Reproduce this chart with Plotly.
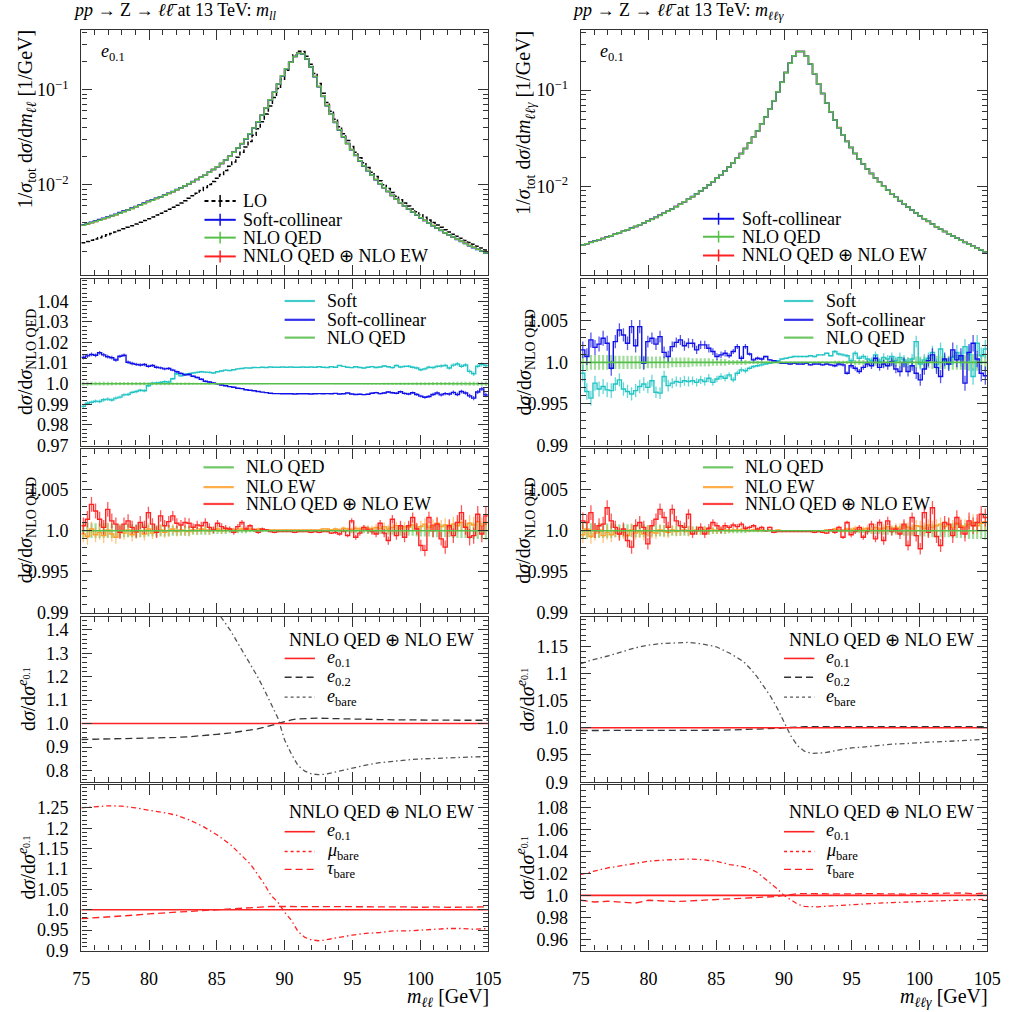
import numpy as np
import plotly.graph_objects as go

# ---------------- data ----------------
bin_edges = np.round(np.linspace(75.0, 105.0, 101), 2)
bin_centers = np.round((bin_edges[:-1] + bin_edges[1:]) / 2, 3)

lo_mll = [
    0.002454, 0.002530, 0.002611, 0.002694, 0.002783, 0.002878, 0.002978, 0.003083, 0.003195, 0.003316,
    0.003443, 0.003576, 0.003721, 0.003876, 0.004042, 0.004217, 0.004408, 0.004598, 0.004805, 0.005025,
    0.005266, 0.005525, 0.005810, 0.006116, 0.006455, 0.006822, 0.007231, 0.007683, 0.008182, 0.008738,
    0.009358, 0.01006, 0.01084, 0.01173, 0.01286, 0.01416, 0.01567, 0.01743, 0.01952, 0.02200,
    0.02498, 0.02861, 0.03321, 0.03895, 0.04621, 0.05553, 0.06764, 0.08287, 0.1029, 0.1290,
    0.1603, 0.1962, 0.2325, 0.2544, 0.2522, 0.2246, 0.1861, 0.1482, 0.1166, 0.09208,
    0.07355, 0.05958, 0.04895, 0.04078, 0.03440, 0.02934, 0.02530, 0.02201, 0.01930, 0.01706,
    0.01518, 0.01359, 0.01223, 0.01106, 0.01005, 0.009171, 0.008318, 0.007608, 0.006982, 0.006459,
    0.005993, 0.005575, 0.005199, 0.004860, 0.004552, 0.004273, 0.004019, 0.003786, 0.003573, 0.003377,
    0.003198, 0.003031, 0.002878, 0.002735, 0.002604, 0.002481, 0.002367, 0.002261, 0.002161, 0.002068]

nlo_mll = [
    0.003755, 0.003868, 0.003990, 0.004111, 0.004244, 0.004386, 0.004533, 0.004689, 0.004856, 0.005037,
    0.005226, 0.005421, 0.005637, 0.005868, 0.006112, 0.006372, 0.006656, 0.006902, 0.007169, 0.007452,
    0.007762, 0.008100, 0.008465, 0.008856, 0.009289, 0.009755, 0.01024, 0.01078, 0.01136, 0.01201,
    0.01274, 0.01356, 0.01446, 0.01548, 0.01679, 0.01828, 0.02001, 0.02200, 0.02436, 0.02713,
    0.03045, 0.03445, 0.03952, 0.04604, 0.05430, 0.06480, 0.07846, 0.09447, 0.1152, 0.1406,
    0.1667, 0.1952, 0.2244, 0.2417, 0.2383, 0.2111, 0.1740, 0.1378, 0.1084, 0.08563,
    0.06840, 0.05541, 0.04552, 0.03793, 0.03199, 0.02729, 0.02353, 0.02047, 0.01795, 0.01587,
    0.01412, 0.01264, 0.01137, 0.01029, 0.009347, 0.008529, 0.007736, 0.007075, 0.006493, 0.006007,
    0.005573, 0.005185, 0.004835, 0.004520, 0.004233, 0.003974, 0.003738, 0.003521, 0.003323, 0.003141,
    0.002974, 0.002819, 0.002677, 0.002544, 0.002422, 0.002307, 0.002201, 0.002103, 0.002010, 0.001923]

nlo_mllg = [
    0.002470, 0.002542, 0.002622, 0.002702, 0.002789, 0.002878, 0.002975, 0.003077, 0.003185, 0.003300,
    0.003422, 0.003552, 0.003691, 0.003836, 0.003994, 0.004164, 0.004346, 0.004549, 0.004766, 0.005003,
    0.005258, 0.005533, 0.005836, 0.006167, 0.006530, 0.006929, 0.007359, 0.007836, 0.008364, 0.008953,
    0.009610, 0.01035, 0.01119, 0.01214, 0.01322, 0.01446, 0.01591, 0.01759, 0.01956, 0.02190,
    0.02470, 0.02810, 0.03232, 0.03756, 0.04415, 0.05256, 0.06341, 0.07764, 0.09631, 0.1207,
    0.1520, 0.1896, 0.2269, 0.2519, 0.2510, 0.2246, 0.1861, 0.1482, 0.1166, 0.09208,
    0.07355, 0.05958, 0.04895, 0.04078, 0.03440, 0.02934, 0.02530, 0.02201, 0.01930, 0.01706,
    0.01518, 0.01359, 0.01223, 0.01106, 0.01005, 0.009171, 0.008402, 0.007724, 0.007124, 0.006591,
    0.006115, 0.005689, 0.005305, 0.004934, 0.004622, 0.004338, 0.004080, 0.003824, 0.003610, 0.003412,
    0.003230, 0.003062, 0.002908, 0.002763, 0.002630, 0.002507, 0.002391, 0.002284, 0.002183, 0.002089]

soft_ratio_mll = [
    0.9890, 0.9905, 0.9910, 0.9915, 0.9914, 0.9922, 0.9925, 0.9921, 0.9930, 0.9935,
    0.9946, 0.9948, 0.9958, 0.9962, 0.9968, 0.9966, 0.9990, 1.0003, 1.0004, 1.0006,
    1.0010, 1.0008, 1.0024, 1.0048, 1.0038, 1.0045, 1.0048, 1.0052, 1.0055, 1.0058,
    1.0056, 1.0055, 1.0052, 1.0058, 1.0062, 1.0066, 1.0064, 1.0068, 1.0072, 1.0074,
    1.0077, 1.0076, 1.0079, 1.0078, 1.0080, 1.0079, 1.0081, 1.0080, 1.0080, 1.0081,
    1.0080, 1.0081, 1.0080, 1.0080, 1.0081, 1.0080, 1.0081, 1.0080, 1.0082, 1.0080,
    1.0079, 1.0082, 1.0080, 1.0088, 1.0084, 1.0080, 1.0078, 1.0082, 1.0079, 1.0076,
    1.0080, 1.0083, 1.0079, 1.0081, 1.0086, 1.0082, 1.0078, 1.0088, 1.0081, 1.0084,
    1.0085, 1.0080, 1.0076, 1.0068, 1.0072, 1.0080, 1.0078, 1.0084, 1.0086, 1.0089,
    1.0076, 1.0090, 1.0096, 1.0085, 1.0091, 1.0060, 1.0048, 1.0085, 1.0094, 1.0088]

sc_ratio_mll = [
    1.0128, 1.0135, 1.0142, 1.0138, 1.0150, 1.0140, 1.0131, 1.0126, 1.0115, 1.0133,
    1.0138, 1.0104, 1.0098, 1.0094, 1.0091, 1.0093, 1.0085, 1.0088, 1.0080, 1.0077,
    1.0072, 1.0074, 1.0066, 1.0058, 1.0050, 1.0043, 1.0045, 1.0036, 1.0030, 1.0022,
    1.0012, 1.0008, 1.0004, 0.9999, 0.9994, 0.9990, 0.9986, 0.9983, 0.9978, 0.9976,
    0.9971, 0.9968, 0.9966, 0.9962, 0.9959, 0.9957, 0.9954, 0.9952, 0.9952, 0.9951,
    0.9951, 0.9951, 0.9950, 0.9951, 0.9951, 0.9951, 0.9950, 0.9951, 0.9952, 0.9951,
    0.9952, 0.9951, 0.9953, 0.9950, 0.9951, 0.9955, 0.9950, 0.9948, 0.9949, 0.9947,
    0.9949, 0.9954, 0.9957, 0.9952, 0.9955, 0.9960, 0.9956, 0.9954, 0.9961, 0.9953,
    0.9950, 0.9956, 0.9948, 0.9940, 0.9934, 0.9938, 0.9948, 0.9955, 0.9946, 0.9952,
    0.9950, 0.9958, 0.9948, 0.9962, 0.9955, 0.9941, 0.9930, 0.9960, 0.9975, 0.9945]

soft_ratio_mllg = [
    0.9987, 0.9965, 0.9957, 0.9975, 0.9968, 0.9971, 0.9967, 0.9966, 0.9974, 0.9979,
    0.9968, 0.9965, 0.9962, 0.9966, 0.9971, 0.9974, 0.9970, 0.9978, 0.9964, 0.9963,
    0.9983, 0.9972, 0.9975, 0.9977, 0.9976, 0.9978, 0.9977, 0.9978, 0.9976, 0.9979,
    0.9977, 0.9981, 0.9976, 0.9980, 0.9983, 0.9981, 0.9985, 0.9979, 0.9987, 0.9991,
    0.9990, 0.9993, 0.9995, 0.9996, 0.9997, 0.9998, 0.9999, 1.0000, 1.0002, 1.0004,
    1.0005, 1.0006, 1.0007, 1.0007, 1.0007, 1.0007, 1.0008, 1.0007, 1.0009, 1.0009,
    1.0011, 1.0008, 1.0013, 1.0010, 1.0009, 1.0008, 1.0002, 1.0011, 1.0005, 1.0007,
    1.0004, 1.0002, 1.0009, 1.0001, 1.0006, 1.0004, 1.0007, 1.0002, 1.0006, 1.0003,
    1.0000, 1.0004, 1.0025, 0.9998, 1.0003, 1.0005, 1.0012, 0.9997, 1.0016, 1.0002,
    0.9998, 1.0006, 1.0012, 1.0004, 1.0019, 1.0010, 0.9983, 1.0023, 1.0008, 1.0016]

sc_ratio_mllg = [
    1.0015, 1.0007, 1.0027, 1.0018, 1.0022, 1.0029, 1.0023, 0.9993, 1.0025, 1.0039,
    1.0033, 1.0023, 1.0043, 1.0020, 1.0043, 0.9999, 1.0025, 1.0029, 1.0022, 1.0031,
    1.0012, 1.0007, 1.0019, 1.0024, 1.0027, 1.0020, 1.0023, 1.0023, 1.0015, 1.0021,
    1.0021, 1.0017, 1.0013, 1.0007, 1.0009, 1.0011, 1.0008, 1.0013, 1.0019, 1.0005,
    1.0019, 1.0010, 1.0003, 1.0005, 1.0004, 1.0007, 1.0003, 1.0002, 1.0000, 0.9999,
    0.9999, 0.9998, 0.9999, 0.9998, 0.9998, 0.9999, 0.9997, 0.9998, 0.9998, 0.9997,
    0.9998, 0.9997, 0.9996, 0.9998, 0.9997, 0.9987, 0.9996, 0.9993, 0.9989, 0.9994,
    0.9998, 0.9996, 1.0005, 0.9994, 0.9998, 0.9996, 1.0001, 0.9992, 0.9989, 1.0000,
    0.9989, 0.9996, 0.9987, 0.9979, 0.9992, 1.0002, 1.0009, 0.9994, 0.9983, 1.0004,
    0.9998, 1.0015, 1.0003, 1.0008, 0.9975, 1.0012, 1.0023, 1.0004, 0.9987, 0.9984]

nnlo_ratio_mll = [
    1.0006, 1.0014, 1.0032, 1.0024, 1.0014, 1.0004, 1.0026, 1.0012, 1.0008, 0.9998,
    1.0008, 1.0012, 1.0004, 0.9999, 1.0010, 1.0004, 1.0022, 1.0008, 0.9998, 1.0018,
    1.0006, 1.0011, 1.0018, 1.0009, 1.0007, 1.0010, 1.0009, 1.0004, 1.0007, 1.0006,
    1.0010, 1.0004, 1.0001, 1.0009, 1.0005, 1.0003, 1.0002, 0.9998, 1.0005, 1.0010,
    1.0002, 1.0006, 1.0001, 0.9998, 1.0002, 1.0001, 0.9999, 0.9998, 0.9999, 0.9999,
    0.9999, 0.9999, 0.9998, 0.9999, 0.9999, 0.9999, 0.9998, 0.9999, 0.9998, 0.9999,
    0.9999, 0.9997, 0.9998, 0.9996, 1.0000, 0.9994, 1.0012, 0.9992, 0.9997, 1.0004,
    1.0001, 0.9999, 0.9996, 1.0009, 0.9997, 0.9988, 1.0014, 0.9994, 1.0006, 0.9992,
    1.0006, 1.0016, 1.0002, 0.9982, 0.9976, 1.0016, 1.0000, 1.0008, 0.9990, 0.9980,
    1.0006, 0.9994, 1.0010, 1.0022, 1.0004, 0.9992, 0.9994, 1.0020, 0.9996, 1.0018]

ew_ratio_mll = [
    0.9996, 0.9993, 1.0002, 0.9995, 0.9998, 0.9994, 1.0001, 0.9996, 0.9992, 0.9999,
    0.9997, 1.0001, 0.9995, 0.9998, 1.0000, 0.9996, 1.0002, 0.9997, 0.9999, 1.0001,
    0.9998, 1.0000, 1.0002, 0.9999, 1.0001, 1.0000, 0.9999, 1.0001, 1.0000, 1.0002,
    1.0001, 1.0000, 1.0001, 1.0002, 1.0000, 1.0001, 1.0002, 1.0001, 1.0001, 1.0002,
    1.0001, 1.0002, 1.0001, 1.0002, 1.0001, 1.0001, 1.0001, 1.0001, 1.0001, 1.0001,
    1.0001, 1.0001, 1.0001, 1.0001, 1.0001, 1.0001, 1.0001, 1.0001, 1.0001, 1.0002,
    1.0002, 1.0001, 1.0002, 1.0001, 1.0003, 1.0002, 1.0001, 1.0003, 1.0002, 1.0004,
    1.0003, 1.0002, 1.0004, 1.0003, 1.0005, 1.0002, 1.0004, 1.0006, 1.0003, 1.0005,
    1.0004, 1.0007, 1.0003, 1.0005, 1.0008, 1.0004, 1.0006, 1.0009, 1.0005, 1.0007,
    1.0004, 1.0008, 1.0006, 1.0010, 1.0005, 1.0009, 1.0007, 1.0011, 1.0006, 1.0010]

nnlo_ratio_mllg = [
    1.0012, 1.0010, 1.0022, 1.0000, 1.0006, 1.0008, 1.0028, 1.0012, 1.0004, 0.9996,
    1.0002, 0.9988, 0.9980, 1.0006, 1.0010, 1.0004, 0.9984, 1.0006, 1.0014, 1.0026,
    1.0016, 1.0004, 1.0026, 1.0012, 1.0006, 1.0004, 1.0020, 0.9996, 1.0000, 1.0004,
    0.9996, 1.0003, 1.0010, 1.0006, 1.0001, 1.0006, 1.0004, 1.0007, 1.0005, 1.0008,
    1.0003, 1.0004, 1.0006, 1.0002, 1.0004, 1.0000, 1.0004, 0.9998, 0.9999, 0.9999,
    0.9999, 0.9999, 0.9999, 0.9999, 0.9999, 0.9999, 0.9999, 0.9998, 0.9999, 0.9998,
    0.9997, 1.0001, 0.9998, 1.0004, 0.9992, 1.0010, 0.9995, 0.9999, 1.0004, 0.9992,
    0.9999, 1.0008, 0.9990, 1.0010, 0.9988, 1.0012, 0.9999, 1.0002, 0.9996, 1.0008,
    0.9982, 1.0016, 0.9994, 0.9978, 1.0022, 0.9998, 1.0028, 0.9993, 0.9982, 1.0010,
    1.0008, 0.9994, 1.0016, 1.0004, 0.9996, 1.0012, 1.0006, 1.0010, 1.0020, 1.0016]

ew_ratio_mllg = [
    0.9995, 1.0002, 0.9993, 0.9997, 1.0001, 0.9994, 0.9998, 0.9995, 1.0000, 0.9996,
    0.9998, 0.9994, 1.0001, 0.9997, 0.9999, 0.9996, 1.0000, 0.9998, 0.9997, 1.0001,
    0.9999, 0.9998, 1.0001, 0.9999, 1.0000, 1.0001, 0.9999, 1.0000, 1.0001, 1.0000,
    1.0001, 1.0000, 1.0001, 1.0000, 1.0001, 1.0001, 1.0000, 1.0001, 1.0001, 1.0001,
    1.0001, 1.0000, 1.0001, 1.0000, 1.0001, 1.0000, 1.0001, 1.0000, 1.0001, 1.0000,
    1.0000, 1.0000, 1.0000, 1.0000, 1.0000, 1.0000, 1.0000, 1.0000, 1.0000, 1.0000,
    1.0001, 1.0000, 1.0002, 1.0001, 1.0000, 1.0002, 1.0001, 1.0003, 1.0001, 1.0002,
    1.0003, 1.0001, 1.0004, 1.0002, 1.0003, 1.0005, 1.0002, 1.0004, 1.0003, 1.0006,
    1.0004, 1.0002, 1.0006, 1.0005, 1.0003, 1.0007, 1.0004, 1.0006, 1.0008, 1.0005,
    1.0007, 1.0004, 1.0009, 1.0006, 1.0005, 1.0008, 1.0010, 1.0006, 1.0009, 1.0011]

nlo_rel_err = [
    0.0010, 0.0010, 0.0009, 0.0009, 0.0009, 0.0009, 0.0009, 0.0009, 0.0008, 0.0008,
    0.0008, 0.0008, 0.0008, 0.0008, 0.0008, 0.0008, 0.0007, 0.0007, 0.0007, 0.0007,
    0.0007, 0.0007, 0.0006, 0.0006, 0.0006, 0.0006, 0.0006, 0.0005, 0.0005, 0.0005,
    0.0005, 0.0005, 0.0004, 0.0004, 0.0004, 0.0004, 0.0003, 0.0003, 0.0003, 0.0003,
    0.0003, 0.0002, 0.0002, 0.0002, 0.0002, 0.0001, 0.0001, 0.0001, 0.0001, 0.0001,
    0.0001, 0.0001, 0.0001, 0.0001, 0.0001, 0.0001, 0.0001, 0.0001, 0.0001, 0.0001,
    0.0001, 0.0001, 0.0002, 0.0002, 0.0002, 0.0002, 0.0003, 0.0003, 0.0003, 0.0003,
    0.0004, 0.0004, 0.0004, 0.0004, 0.0005, 0.0005, 0.0005, 0.0005, 0.0006, 0.0006,
    0.0006, 0.0006, 0.0007, 0.0007, 0.0007, 0.0007, 0.0008, 0.0008, 0.0008, 0.0008,
    0.0008, 0.0009, 0.0009, 0.0009, 0.0009, 0.0010, 0.0010, 0.0010, 0.0010, 0.0011]

# smooth ratios (read at selected masses)
smooth_x = [75, 76, 77, 78, 79, 80, 81, 82, 83, 84, 85, 86, 87,
            87.5, 88, 88.5, 89, 89.5, 90, 90.5, 91, 91.5, 92, 92.5, 93,
            94, 95, 96, 97, 98, 99, 100, 101, 102, 103, 104, 105]

e02_mll = [0.932, 0.933, 0.934, 0.935, 0.936, 0.937, 0.939, 0.941, 0.944, 0.948, 0.954, 0.960, 0.968,
           0.972, 0.977, 0.984, 0.992, 1.000, 1.009, 1.016, 1.020, 1.022, 1.023, 1.023, 1.022,
           1.020, 1.019, 1.018, 1.017, 1.016, 1.015, 1.015, 1.014, 1.014, 1.014, 1.014, 1.014]
ebare_mll = [2.20, 2.16, 2.11, 2.05, 1.99, 1.92, 1.85, 1.77, 1.68, 1.58, 1.48, 1.397, 1.30,
             1.25, 1.20, 1.144, 1.087, 1.024, 0.93, 0.87, 0.82, 0.797, 0.785, 0.782, 0.784,
             0.798, 0.812, 0.823, 0.833, 0.840, 0.845, 0.849, 0.852, 0.855, 0.857, 0.858, 0.859]
e02_mllg = [0.995, 0.995, 0.9948, 0.9946, 0.9945, 0.9945, 0.9945, 0.9946, 0.9948, 0.995, 0.9955, 0.996, 0.9966,
            0.997, 0.9973, 0.9977, 0.998, 0.999, 1.000, 1.001, 1.0015, 1.002, 1.002, 1.002, 1.002,
            1.002, 1.002, 1.002, 1.002, 1.002, 1.002, 1.002, 1.002, 1.002, 1.002, 1.002, 1.002]
ebare_mllg = [1.118, 1.126, 1.132, 1.140, 1.147, 1.152, 1.155, 1.156, 1.157, 1.154, 1.149, 1.137, 1.122,
              1.109, 1.094, 1.076, 1.058, 1.036, 1.009, 0.985, 0.967, 0.957, 0.953, 0.953, 0.954,
              0.959, 0.963, 0.965, 0.968, 0.970, 0.971, 0.973, 0.974, 0.975, 0.976, 0.978, 0.979]
mubare_mll = [1.250, 1.253, 1.255, 1.254, 1.250, 1.244, 1.239, 1.232, 1.220, 1.204, 1.184, 1.160, 1.127,
              1.111, 1.087, 1.063, 1.035, 1.019, 0.994, 0.974, 0.946, 0.932, 0.926, 0.924, 0.926,
              0.932, 0.938, 0.942, 0.944, 0.948, 0.948, 0.950, 0.952, 0.954, 0.954, 0.952, 0.954]
taubare_mll = [0.978, 0.980, 0.982, 0.985, 0.987, 0.990, 0.992, 0.994, 0.996, 0.998, 1.000, 1.002, 1.005,
               1.006, 1.007, 1.008, 1.008, 1.008, 1.008, 1.008, 1.008, 1.008, 1.008, 1.008, 1.008,
               1.008, 1.008, 1.007, 1.007, 1.008, 1.007, 1.006, 1.007, 1.006, 1.006, 1.007, 1.007]
mubare_mllg = [1.019, 1.022, 1.025, 1.027, 1.029, 1.031, 1.032, 1.0323, 1.033, 1.0323, 1.031, 1.028, 1.026,
               1.024, 1.021, 1.016, 1.011, 1.006, 1.000, 0.9956, 0.992, 0.990, 0.9896, 0.9896, 0.990,
               0.9908, 0.992, 0.9926, 0.993, 0.9935, 0.994, 0.9947, 0.995, 0.9956, 0.996, 0.9961, 0.9964]
taubare_mllg = [0.9956, 0.994, 0.9947, 0.994, 0.993, 0.9956, 0.995, 0.9944, 0.995, 0.9956, 0.9961, 0.9964, 0.997,
                0.9973, 0.9976, 0.998, 0.9985, 0.999, 1.000, 1.001, 1.0015, 1.0016, 1.0015, 1.0017, 1.0015,
                1.0016, 1.0013, 1.0016, 1.0014, 1.0017, 1.0012, 1.0018, 1.0015, 1.002, 1.0022, 1.0016, 1.0021]

# tick labels
x_tick_vals = [75, 80, 85, 90, 95, 100, 105]
x_tick_text = ["75", "80", "85", "90", "95", "100", "105"]
log_tick_vals = [0.01, 0.1]
log_tick_text = ["10<sup>−2</sup>", "10<sup>−1</sup>"]
log_minor_vals = [0.002, 0.003, 0.004, 0.005, 0.006, 0.007, 0.008, 0.009,
                  0.02, 0.03, 0.04, 0.05, 0.06, 0.07, 0.08, 0.09, 0.2, 0.3, 0.4]
r2l_vals = [0.97, 0.98, 0.99, 1.0, 1.01, 1.02, 1.03, 1.04]
r2l_text = ["0.97", "0.98", "0.99", "1.0", "1.01", "1.02", "1.03", "1.04"]
rfine_vals = [0.99, 0.995, 1.0, 1.005]
rfine_text = ["0.99", "0.995", "1.0", "1.005"]
r4l_vals = [0.8, 0.9, 1.0, 1.1, 1.2, 1.3, 1.4]
r4l_text = ["0.8", "0.9", "1.0", "1.1", "1.2", "1.3", "1.4"]
r4r_vals = [0.9, 0.95, 1.0, 1.05, 1.1, 1.15]
r4r_text = ["0.9", "0.95", "1.0", "1.05", "1.1", "1.15"]
r5l_vals = [0.9, 0.95, 1.0, 1.05, 1.1, 1.15, 1.2, 1.25]
r5l_text = ["0.9", "0.95", "1.0", "1.05", "1.1", "1.15", "1.2", "1.25"]
r5r_vals = [0.96, 0.98, 1.0, 1.02, 1.04, 1.06, 1.08]
r5r_text = ["0.96", "0.98", "1.0", "1.02", "1.04", "1.06", "1.08"]

# ---------------- style ----------------
W, H = 1016, 1012
FONT = "Liberation Serif"
FS = 18
FS_T = 20
AX = "#333333"
C_LO = "black"
C_SC = "#1010e8"
C_NLO = "#56bf4a"
C_NNLO = "#ff2222"
C_SOFT = "#22c4c4"
C_EW = "#ff9f2a"

COLS = [(74, 490), (585, 1001)]
ROWS = [(30, 278), (282, 450), (453, 619), (623, 790), (793, 960)]
PADX = 3  # annotation inner padding compensation

fig = go.Figure()


def nid(col, row):
    return col * 5 + row + 1


def xr(n):
    return "x" if n == 1 else f"x{n}"


def yr(n):
    return "y" if n == 1 else f"y{n}"


def step(n, vals, color, width=1.5, dash="solid", opacity=1.0):
    v = np.asarray(vals, dtype=float)
    fig.add_trace(go.Scatter(x=bin_edges, y=np.append(v, v[-1]), mode="lines",
                             line=dict(shape="hv", color=color, width=width, dash=dash),
                             opacity=opacity, xaxis=xr(n), yaxis=yr(n),
                             showlegend=False, hoverinfo="skip"))


def errbars(n, vals, rel, color, thick=1.3):
    v = np.asarray(vals, dtype=float)
    e = v * np.asarray(rel, dtype=float)
    fig.add_trace(go.Scatter(x=bin_centers, y=v, mode="markers",
                             marker=dict(size=1, color="rgba(0,0,0,0)"),
                             error_y=dict(type="data", array=e, color=color, thickness=thick, width=0),
                             xaxis=xr(n), yaxis=yr(n), showlegend=False, hoverinfo="skip"))


def curve(n, xs, ys, color, dash="solid", width=1.3):
    fig.add_trace(go.Scatter(x=xs, y=ys, mode="lines", line=dict(color=color, width=width, dash=dash),
                             xaxis=xr(n), yaxis=yr(n), showlegend=False, hoverinfo="skip"))


def ptext(xp, yp, s, xanchor="left", yanchor="middle", angle=0, size=FS):
    if angle == 0:
        if xanchor == "left":
            xp -= PADX
        elif xanchor == "right":
            xp += PADX
    fig.add_annotation(x=xp / W, y=1 - yp / H, xref="paper", yref="paper", text=s, showarrow=False,
                       xanchor=xanchor, yanchor=yanchor, textangle=angle,
                       font=dict(family=FONT, size=size, color="black"))


def pline(x0, x1, y0, y1, color, width=1.5, dash="solid", opacity=1.0):
    fig.add_shape(type="line", xref="paper", yref="paper", x0=x0 / W, x1=x1 / W,
                  y0=1 - y0 / H, y1=1 - y1 / H, opacity=opacity,
                  line=dict(color=color, width=width, dash=dash))


def legend_entry(xs0, xs1, xt, y, label, color, dash="solid", cross=False, width=2.0, opacity=1.0):
    pline(xs0, xs1, y, y, color, width=width, dash=dash, opacity=opacity)
    if cross:
        xm = (xs0 + xs1) / 2
        pline(xm, xm, y - 6, y + 6, color, width=1.5)
    ptext(xt, y, label)


ones = np.asarray(nlo_mll) / np.asarray(nlo_mll)
ones_g = np.asarray(nlo_mllg) / np.asarray(nlo_mllg)

# ---- panel 1: distributions ----
n = nid(0, 0)
step(n, lo_mll, C_LO, width=1.5, dash="4px,2px")
step(n, np.asarray(nlo_mll) * np.asarray(nnlo_ratio_mll), C_NNLO)
step(n, np.asarray(nlo_mll) * np.asarray(sc_ratio_mll), C_SC)
step(n, nlo_mll, C_NLO)
n = nid(1, 0)
step(n, np.asarray(nlo_mllg) * np.asarray(nnlo_ratio_mllg), C_NNLO)
step(n, np.asarray(nlo_mllg) * np.asarray(sc_ratio_mllg), C_SC)
step(n, nlo_mllg, C_NLO)

# ---- panel 2: soft / soft-collinear ----
for col, base1, soft, sc in [(0, ones, soft_ratio_mll, sc_ratio_mll),
                             (1, ones_g, soft_ratio_mllg, sc_ratio_mllg)]:
    n = nid(col, 1)
    errbars(n, base1, nlo_rel_err, "rgba(86,191,74,0.55)", thick=2.2)
    errbars(n, soft, nlo_rel_err, "rgba(34,196,196,0.7)")
    step(n, soft, C_SOFT, width=1.4)
    errbars(n, sc, nlo_rel_err, "rgba(16,16,232,0.7)")
    step(n, sc, C_SC, width=1.4)
    step(n, base1, C_NLO, width=1.6)

# ---- panel 3: NLO EW / NNLO ----
for col, base1, ew, nn in [(0, ones, ew_ratio_mll, nnlo_ratio_mll),
                           (1, ones_g, ew_ratio_mllg, nnlo_ratio_mllg)]:
    n = nid(col, 2)
    errbars(n, base1, nlo_rel_err, "rgba(86,191,74,0.55)", thick=2.2)
    errbars(n, ew, nlo_rel_err, "rgba(255,159,42,0.6)")
    step(n, ew, C_EW, width=1.4)
    errbars(n, nn, nlo_rel_err, "rgba(255,34,34,0.75)")
    step(n, nn, C_NNLO, width=1.4)
    step(n, base1, C_NLO, width=1.6)

# ---- panel 4: electron dressing ----
for col, base1, e02, eb in [(0, ones, e02_mll, ebare_mll), (1, ones_g, e02_mllg, ebare_mllg)]:
    n = nid(col, 3)
    curve(n, smooth_x, e02, "#333333", dash="7px,4px", width=1.3)
    curve(n, smooth_x, eb, "#555555", dash="5px,3px,1.5px,3px", width=1.3)
    step(n, base1, C_NNLO, width=1.6)

# ---- panel 5: flavours ----
for col, base1, mu, tau in [(0, ones, mubare_mll, taubare_mll), (1, ones_g, mubare_mllg, taubare_mllg)]:
    n = nid(col, 4)
    curve(n, smooth_x, mu, C_NNLO, dash="5px,3px,1.5px,3px", width=1.3)
    curve(n, smooth_x, tau, C_NNLO, dash="7px,4px", width=1.3)
    step(n, base1, C_NNLO, width=1.6)

# ---------------- axes ----------------
yranges = {
    (0, 0): [-2.951, -0.368], (1, 0): [-2.922, -0.373],
    (0, 1): [0.97, 1.0507], (1, 1): [0.99, 1.01],
    (0, 2): [0.99, 1.01], (1, 2): [0.99, 1.01],
    (0, 3): [0.75, 1.455], (1, 3): [0.9, 1.204],
    (0, 4): [0.9, 1.3056], (1, 4): [0.95, 1.1],
}
yticks = {
    (0, 1): (r2l_vals, r2l_text, 0.002), (1, 1): (rfine_vals, rfine_text, 0.001),
    (0, 2): (rfine_vals, rfine_text, 0.001), (1, 2): (rfine_vals, rfine_text, 0.001),
    (0, 3): (r4l_vals, r4l_text, 0.02), (1, 3): (r4r_vals, r4r_text, 0.01),
    (0, 4): (r5l_vals, r5l_text, 0.01), (1, 4): (r5r_vals, r5r_text, 0.005),
}
tickfont = dict(family=FONT, size=FS, color="black")
axes = {}
for col in range(2):
    for row in range(5):
        n = nid(col, row)
        xa = dict(domain=[COLS[col][0] / W, COLS[col][1] / W], range=[75, 105], anchor=yr(n),
                  tickmode="array", tickvals=x_tick_vals, ticktext=x_tick_text,
                  ticks="inside", ticklen=10, tickwidth=1, tickcolor=AX,
                  minor=dict(ticks="inside", ticklen=5, tickwidth=1, tickcolor=AX,
                             tickmode="linear", tick0=75, dtick=1),
                  showline=True, linecolor=AX, linewidth=1.4, mirror="allticks",
                  showgrid=False, zeroline=False, showticklabels=(row == 4),
                  tickfont=tickfont, ticklabelstandoff=12)
        ya = dict(domain=[1 - ROWS[row][1] / H, 1 - ROWS[row][0] / H], range=yranges[(col, row)],
                  anchor=xr(n), ticks="inside", ticklen=10, tickwidth=1, tickcolor=AX,
                  showline=True, linecolor=AX, linewidth=1.4, mirror="allticks",
                  showgrid=False, zeroline=False, tickfont=tickfont, ticklabelstandoff=8)
        if row == 0:
            ya.update(type="log", tickmode="array", tickvals=log_tick_vals, ticktext=log_tick_text,
                      minor=dict(ticks="inside", ticklen=5, tickwidth=1, tickcolor=AX,
                                 tickmode="array", tickvals=log_minor_vals))
        else:
            tv, tt, md = yticks[(col, row)]
            ya.update(tickmode="array", tickvals=tv, ticktext=tt,
                      minor=dict(ticks="inside", ticklen=5, tickwidth=1, tickcolor=AX,
                                 tickmode="linear", tick0=tv[0], dtick=md))
        axes["xaxis" if n == 1 else f"xaxis{n}"] = xa
        axes["yaxis" if n == 1 else f"yaxis{n}"] = ya

fig.update_layout(width=W, height=H, autosize=False, margin=dict(l=0, r=0, t=0, b=0),
                  paper_bgcolor="white", plot_bgcolor="white", showlegend=False,
                  font=dict(family=FONT, size=FS, color="black"), **axes)

# ---------------- texts ----------------
LLBAR = "<span style=\"font-family:'DejaVu Serif'\"><i>ℓℓ̄</i></span>"
ptext(66, 11, "<i>pp</i> → Z → " + LLBAR + " at 13 TeV: <i>m<sub>ll</sub></i>")
ptext(577, 11, "<i>pp</i> → Z → " + LLBAR + " at 13 TeV: <i>m<sub>ℓℓγ</sub></i>")
ptext(95, 53, "<i>e</i><sub>0.1</sub>")
ptext(606, 53, "<i>e</i><sub>0.1</sub>")
ptext(490, 1007, "<i>m</i><sub><i>ℓℓ</i></sub> [GeV]", xanchor="right", size=FS_T)
ptext(1001, 1007, "<i>m</i><sub><i>ℓℓγ</i></sub> [GeV]", xanchor="right", size=FS_T)

ylab_ratio_nlo = "d<i>σ</i>/d<i>σ</i><sub>NLO QED</sub>"
ylab_ratio_e = "d<i>σ</i>/d<i>σ</i><sup><i>e</i><sub>0.1</sub></sup>"
for col, xc, lab in [(0, 18, "1/<i>σ</i><sub>tot</sub> d<i>σ</i>/d<i>m</i><sub><i>ℓℓ</i></sub> [1/GeV]"),
                     (1, 528, "1/<i>σ</i><sub>tot</sub> d<i>σ</i>/d<i>m</i><sub><i>ℓℓγ</i></sub> [1/GeV]")]:
    ptext(xc, 29, lab, xanchor="center", yanchor="top", angle=-90, size=FS_T)
    ptext(xc, (ROWS[1][0] + ROWS[1][1]) / 2, ylab_ratio_nlo, xanchor="center", angle=-90, size=FS_T)
    ptext(xc, (ROWS[2][0] + ROWS[2][1]) / 2, ylab_ratio_nlo, xanchor="center", angle=-90, size=FS_T)
    ptext(xc, (ROWS[3][0] + ROWS[3][1]) / 2, ylab_ratio_e, xanchor="center", angle=-90, size=FS_T)
    ptext(xc, (ROWS[4][0] + ROWS[4][1]) / 2, ylab_ratio_e, xanchor="center", angle=-90, size=FS_T)

NNLO_LABEL = "NNLO QED ⊕ NLO EW"
# main legends
legend_entry(200, 232, 240, 203, "LO", C_LO, dash="4px,3px", cross=True)
legend_entry(200, 232, 240, 222, "Soft-collinear", C_SC, cross=True)
legend_entry(200, 232, 240, 240, "NLO QED", C_NLO, cross=True)
legend_entry(200, 232, 240, 259, NNLO_LABEL, C_NNLO, cross=True)
legend_entry(710, 742, 751, 221, "Soft-collinear", C_SC, cross=True)
legend_entry(710, 742, 751, 239, "NLO QED", C_NLO, cross=True)
legend_entry(710, 742, 751, 258, NNLO_LABEL, C_NNLO, cross=True)
# panel 2 legends
for xs0, xs1, xt in [(282, 313, 326), (793, 823, 837)]:
    legend_entry(xs0, xs1, xt, 304, "Soft", C_SOFT, width=2.2, opacity=0.85)
    legend_entry(xs0, xs1, xt, 323, "Soft-collinear", C_SC, width=2.2, opacity=0.85)
    legend_entry(xs0, xs1, xt, 341, "NLO QED", C_NLO, width=2.2, opacity=0.85)
# panel 3 legends
for xs0, xs1, xt in [(199, 230, 243), (710, 741, 754)]:
    legend_entry(xs0, xs1, xt, 472, "NLO QED", C_NLO, width=2.2, opacity=0.85)
    legend_entry(xs0, xs1, xt, 492, "NLO EW", C_EW, width=2.2, opacity=0.85)
    legend_entry(xs0, xs1, xt, 509, NNLO_LABEL, C_NNLO, width=2.2, opacity=0.85)
# panel 4 / 5 legends
for xs0, xs1, xt, xh in [(282, 313, 326, 475), (793, 824, 837, 986)]:
    ptext(xh, 646, NNLO_LABEL, xanchor="right")
    legend_entry(xs0, xs1, xt, 665, "<i>e</i><sub>0.1</sub>", C_NNLO, width=1.6)
    legend_entry(xs0, xs1, xt, 684, "<i>e</i><sub>0.2</sub>", "#333333", dash="7px,4px", width=1.3)
    legend_entry(xs0, xs1, xt, 704, "<i>e</i><sub>bare</sub>", "#555555", dash="dot", width=1.3)
    ptext(xh, 820, NNLO_LABEL, xanchor="right")
    legend_entry(xs0, xs1, xt, 840, "<i>e</i><sub>0.1</sub>", C_NNLO, width=1.6)
    legend_entry(xs0, xs1, xt, 860, "<i>μ</i><sub>bare</sub>", C_NNLO, dash="dot", width=1.3)
    legend_entry(xs0, xs1, xt, 878, "<i>τ</i><sub>bare</sub>", C_NNLO, dash="7px,4px", width=1.3)

fig.write_html("out.html", config={"displayModeBar": False},
               post_script="document.body.style.margin='0';document.body.style.overflow='hidden';")
